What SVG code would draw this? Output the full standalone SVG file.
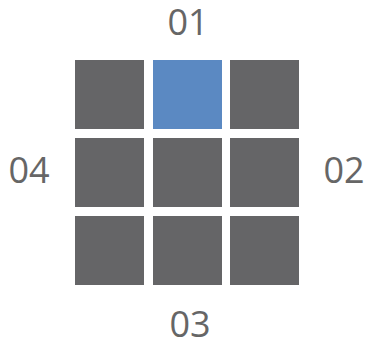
<svg xmlns="http://www.w3.org/2000/svg" width="366" height="344" viewBox="0 0 366 344">
<style>
.cell{fill:#656567}
.active{fill:#5B89C2}
.lbl{font-family:"Open Sans","Liberation Sans",sans-serif;font-size:36px;fill:#666666;text-anchor:middle}
</style>
<rect width="366" height="344" fill="#ffffff"/>
<g id="cells">
<g id="c11"><rect class="cell" x="75" y="60" width="69" height="69"/></g>
<g id="c12"><rect class="active" x="153" y="60" width="69" height="69"/></g>
<g id="c13"><rect class="cell" x="230" y="60" width="69" height="69"/></g>
<g id="c21"><rect class="cell" x="75" y="138" width="69" height="69"/></g>
<g id="c22"><rect class="cell" x="153" y="138" width="69" height="69"/></g>
<g id="c23"><rect class="cell" x="230" y="138" width="69" height="69"/></g>
<g id="c31"><rect class="cell" x="75" y="216" width="69" height="69"/></g>
<g id="c32"><rect class="cell" x="153" y="216" width="69" height="69"/></g>
<g id="c33"><rect class="cell" x="230" y="216" width="69" height="69"/></g>
</g>
<g id="labels">
<g id="l01"><text class="lbl" x="188" y="35">01</text></g>
<g id="l02"><text class="lbl" x="344" y="183">02</text></g>
<g id="l03"><text class="lbl" x="190" y="337">03</text></g>
<g id="l04"><text class="lbl" x="29" y="183">04</text></g>
</g>
<g id="connectors"></g>
</svg>
